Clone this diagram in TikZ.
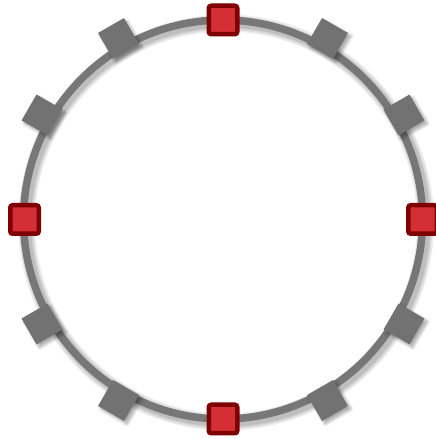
\documentclass[tikz,border=0pt]{standalone}
\usetikzlibrary{shadows.blur}
\definecolor{ringgray}{HTML}{777777}
\definecolor{sqgray}{HTML}{727272}
\definecolor{redfill}{HTML}{D32F35}
\definecolor{redline}{HTML}{7F0000}
\tikzset{
  graysq/.style={rectangle, fill=sqgray, minimum size=30pt, inner sep=0pt, outer sep=0pt,
    blur shadow={shadow xshift=3pt, shadow yshift=-3pt, shadow blur steps=8, shadow blur radius=3pt, shadow opacity=35}},
  redsq/.style={rectangle, fill=redfill, draw=redline, line width=4.5pt, rounded corners=2.5pt,
    minimum size=28.5pt, inner sep=0pt, outer sep=0pt},
  ringshadow/.style={line width=#1, draw=black, opacity=0.07},
}
\begin{document}
\begin{tikzpicture}[x=1pt,y=1pt]
\useasboundingbox (0,0) rectangle (436,439);
\coordinate (c) at (223,219.5);
% ring shadow
\foreach \w in {17,14,11,9} {
  \draw[ringshadow=\w pt] ([xshift=3pt,yshift=-3pt]c) circle (199.5);
}
\draw[ringgray, line width=7.5pt] (c) circle (199.5);
% gray squares
\foreach \a in {30,60,120,150,210,240,300,330} {
  \node[graysq, rotate=\a] (g\a) at ([shift={(\a:209)}]c) {};
}
% red squares
\node[redsq] (top) at ([shift={(90:199.5)}]c) {};
\node[redsq] (left) at ([shift={(180:198.5)}]c) {};
\node[redsq] (right) at ([shift={(0:199.5)}]c) {};
\node[redsq] (bottom) at ([shift={(270:199.5)}]c) {};
\end{tikzpicture}
\end{document}
